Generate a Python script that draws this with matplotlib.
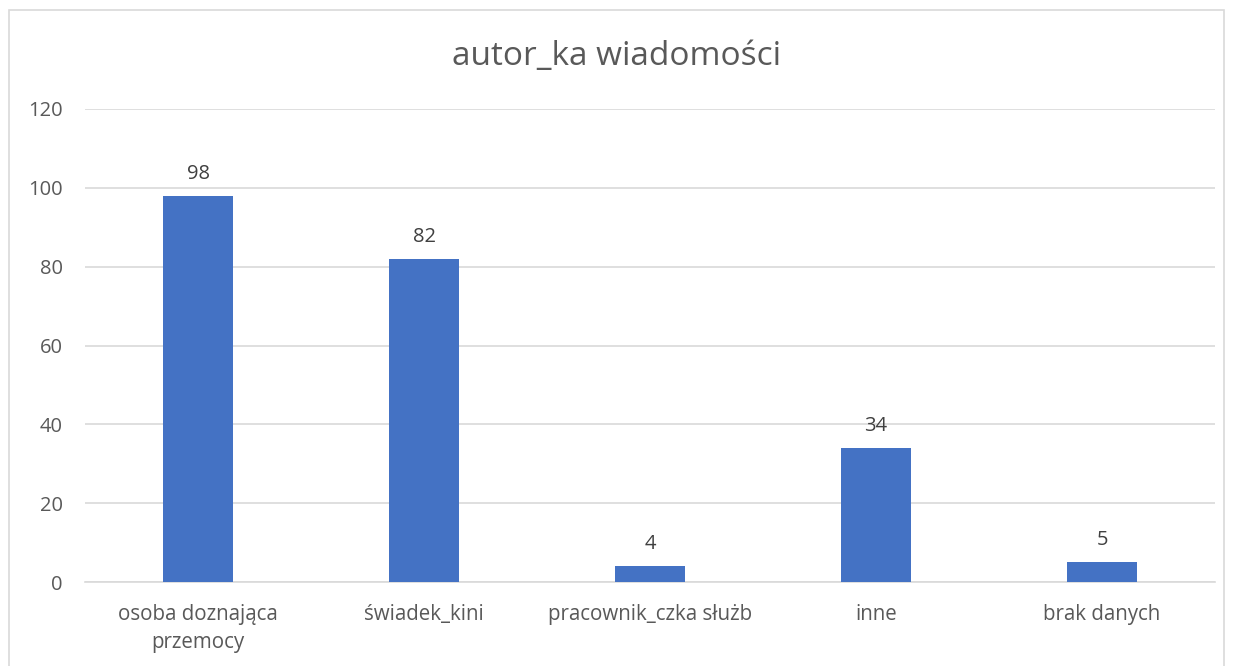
import matplotlib
matplotlib.use("Agg")
import matplotlib.pyplot as plt
from matplotlib.patches import Rectangle

categories = ["osoba doznająca\nprzemocy", "świadek_kini", "pracownik_czka służb", "inne", "brak danych"]
values = [98, 82, 4, 34, 5]
yticks = [0, 20, 40, 60, 80, 100, 120]
title = "autor_ka wiadomości"

W, H = 1233, 666
fig = plt.figure(figsize=(W / 100, H / 100), dpi=100)
fig.patch.set_facecolor("white")
plt.rcParams["font.family"] = ["Open Sans", "DejaVu Sans"]

# outer chart border
fig.patches.append(Rectangle((9 / W, -0.05), (1224 - 9) / W, 1.05 - 10 / H,
                             transform=fig.transFigure, fill=False,
                             edgecolor="#D9D9D9", linewidth=1.2))

ax = fig.add_axes([85 / W, 1 - 582 / H, (1215 - 85) / W, (582 - 109) / H])
x = range(len(categories))
bars = ax.bar(x, values, width=0.31, color="#4472C4", zorder=3)
for xi, v in zip(x, values):
    ax.text(xi, v + 3.0, str(v), ha="center", va="bottom", fontsize=14.5, color="#404040")

ax.set_xlim(-0.5, len(categories) - 0.5)
ax.set_ylim(0, 120)
ax.set_yticks(yticks)
ax.set_yticklabels([str(t) for t in yticks], fontsize=14.5, color="#595959")
ax.set_xticks(list(x))
ax.set_xticklabels(categories, fontsize=14.8, color="#595959", linespacing=1.4)
ax.tick_params(axis="both", length=0)
ax.tick_params(axis="x", pad=16)
ax.tick_params(axis="y", pad=16)
ax.grid(axis="y", color="#D9D9D9", linewidth=1.2, zorder=0)
for s in ["top", "right", "left"]:
    ax.spines[s].set_visible(False)
ax.spines["bottom"].set_color("#D9D9D9")
ax.spines["bottom"].set_linewidth(1.2)

fig.text(0.5, 1 - 57 / H, title, ha="center", va="center", fontsize=24, color="#595959")

fig.savefig("out.png", dpi=100)
